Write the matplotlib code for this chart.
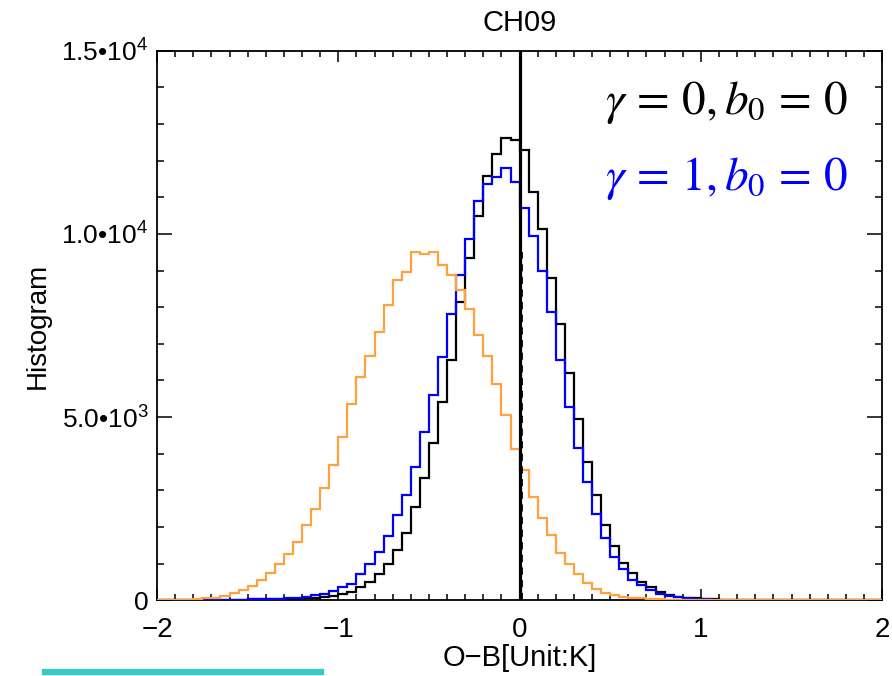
import numpy as np
import matplotlib
matplotlib.use('Agg')
import matplotlib.pyplot as plt
from matplotlib.lines import Line2D
from matplotlib.ticker import MultipleLocator, FixedLocator

plt.rcParams['font.family'] = ['Liberation Sans', 'DejaVu Sans']
plt.rcParams['mathtext.fontset'] = 'custom'
plt.rcParams['mathtext.rm'] = 'Liberation Sans'
plt.rcParams['mathtext.it'] = 'Liberation Sans:italic'

# bins of 0.05 K from -2 to 2 (left edges -2.00 ... 1.95), counts in units of 1e3
bin_edges = np.round(np.arange(-2.0, 2.0001, 0.05), 2)

black_k = [0, 0, 0.005, 0.005, 0.01, 0.01, 0.01, 0.015, 0.02, 0.02,
           0.025, 0.03, 0.03, 0.035, 0.04, 0.045, 0.05, 0.06, 0.08, 0.12,
           0.18, 0.23, 0.36, 0.5, 0.73, 1.0, 1.38, 1.83, 2.54, 3.33,
           4.3, 5.41, 6.56, 8.13, 9.33, 10.48, 11.59, 12.19, 12.63, 12.57,
           12.3, 11.13, 10.14, 8.79, 7.53, 6.19, 4.94, 3.77, 2.86, 2.05,
           1.47, 1.02, 0.75, 0.5, 0.35, 0.23, 0.15, 0.1, 0.07, 0.05,
           0.035, 0.025, 0.02, 0.015, 0.01, 0.01, 0.005, 0.005, 0.005, 0.005,
           0, 0, 0, 0, 0, 0, 0, 0, 0, 0]

blue_k = [0, 0, 0.005, 0.005, 0.01, 0.01, 0.015, 0.015, 0.02, 0.02,
          0.025, 0.03, 0.035, 0.04, 0.05, 0.06, 0.09, 0.14, 0.18, 0.26,
          0.36, 0.45, 0.73, 1.0, 1.32, 1.75, 2.32, 2.86, 3.65, 4.6,
          5.59, 6.65, 7.81, 8.89, 9.85, 10.9, 11.36, 11.56, 11.79, 11.41,
          10.7, 9.95, 9.0, 7.88, 6.57, 5.27, 4.16, 3.23, 2.35, 1.71,
          1.18, 0.86, 0.55, 0.41, 0.27, 0.18, 0.12, 0.09, 0.06, 0.04,
          0.03, 0.02, 0.015, 0.01, 0.01, 0.005, 0.005, 0.005, 0, 0,
          0, 0, 0, 0, 0, 0, 0, 0, 0, 0]

orange_k = [0, 0.005, 0.01, 0.015, 0.025, 0.05, 0.07, 0.11, 0.21, 0.27,
            0.39, 0.55, 0.75, 0.98, 1.25, 1.59, 2.05, 2.5, 3.07, 3.7,
            4.45, 5.36, 6.09, 6.68, 7.32, 8.05, 8.73, 8.95, 9.5, 9.44,
            9.5, 9.14, 8.88, 8.46, 7.95, 7.23, 6.68, 5.91, 5.05, 4.13,
            3.55, 2.81, 2.24, 1.77, 1.28, 1.0, 0.71, 0.47, 0.32, 0.2,
            0.14, 0.1, 0.07, 0.05, 0.04, 0.03, 0.02, 0.015, 0.01, 0.01,
            0.01, 0.005, 0.005, 0.005, 0.005, 0, 0, 0, 0, 0,
            0, 0, 0, 0, 0, 0, 0, 0, 0, 0]

black = np.array(black_k) * 1e3
blue = np.array(blue_k) * 1e3
orange = np.array(orange_k) * 1e3

ytick_vals = [0, 5e3, 1e4, 1.5e4]
ytick_labels = ['0', '5.0•10$^3$', '1.0•10$^4$', '1.5•10$^4$']
xtick_vals = [-2, -1, 0, 1, 2]
xtick_labels = ['\u22122', '\u22121', '0', '1', '2']

fig = plt.figure(figsize=(8.92, 6.76), dpi=100)
ax = fig.add_axes([0.176, 0.112, 0.813, 0.813])

ax.stairs(black, bin_edges, color='black', lw=1.6, zorder=3)
ax.stairs(blue, bin_edges, color='#0000ff', lw=1.6, zorder=4)
ax.stairs(orange, bin_edges, color='#ffa13d', lw=1.6, zorder=5)

ax.axvline(0, color='black', lw=2.3, zorder=6)
ax.plot([0.011, 0.011], [0, 9.5e3], color='black', lw=1.3, ls=(0, (4, 3)), zorder=6)

ax.set_xlim(-2, 2)
ax.set_ylim(0, 1.5e4)
ax.xaxis.set_major_locator(FixedLocator(xtick_vals))
ax.set_xticklabels(xtick_labels)
ax.xaxis.set_minor_locator(MultipleLocator(0.1))
ax.yaxis.set_major_locator(FixedLocator(ytick_vals))
ax.set_yticklabels(ytick_labels)
ax.yaxis.set_minor_locator(MultipleLocator(1000))

ax.tick_params(which='both', direction='in', top=True, right=True, width=1.1)
ax.tick_params(axis='x', which='major', length=8, labelsize=20, pad=12)
ax.tick_params(axis='x', which='minor', length=4)
ax.tick_params(axis='y', which='major', length=10.5, labelsize=19, pad=6)
ax.tick_params(axis='y', which='minor', length=5.2)
for s in ax.spines.values():
    s.set_linewidth(1.3)

ax.set_xlabel('O\u2212B[Unit:K]', fontsize=21, labelpad=1)
ax.set_ylabel('Histogram', fontsize=20, labelpad=8)
ax.set_title('CH09', fontsize=21, pad=14)

ax.text(0.953, 0.905, r'$\gamma\,=\,0,b_0\,=\,0$', transform=ax.transAxes, ha='right', va='center',
        fontsize=34, color='black', math_fontfamily='stix')
ax.text(0.953, 0.767, r'$\gamma\,=\,1,b_0\,=\,0$', transform=ax.transAxes, ha='right', va='center',
        fontsize=34, color='#0000ff', math_fontfamily='stix')

fig.add_artist(Line2D([45 / 892, 321 / 892], [1 - 672 / 676, 1 - 672 / 676],
                      color='#33ccc4', lw=4.5, transform=fig.transFigure))

fig.savefig('out.png', dpi=100)
